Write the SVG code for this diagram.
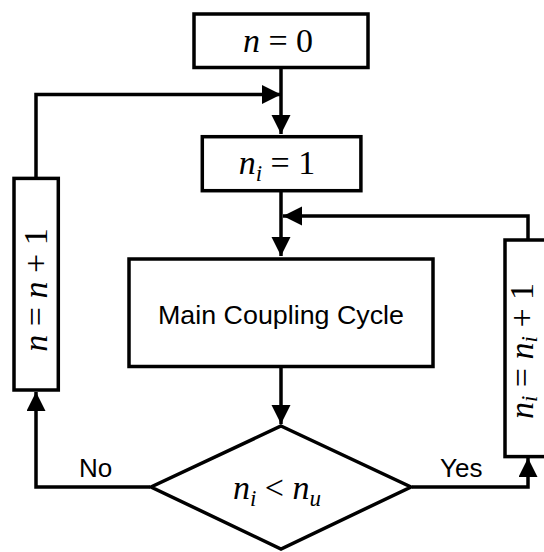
<svg xmlns="http://www.w3.org/2000/svg" width="544" height="552" viewBox="0 0 544 552">
<style>
.box{fill:#fff;stroke:#000;stroke-width:3.5}
.ln{fill:none;stroke:#000;stroke-width:3.5}
.m{font-family:"Liberation Serif","DejaVu Serif",serif;font-size:34px;fill:#000}
.it{font-style:italic}
.sub{font-style:italic;font-size:23px}
.s{font-family:"Liberation Sans",Arial,sans-serif;font-size:26px;fill:#000}
</style>
<defs>
<marker id="ah" markerUnits="userSpaceOnUse" markerWidth="20" markerHeight="20" refX="19" refY="9.5" orient="auto">
<path d="M0,0 L19,9.5 L0,19 Z" fill="#000"/>
</marker>
</defs>
<g id="connectors">
<path class="ln" d="M281,69 V134" marker-end="url(#ah)"/>
<path class="ln" d="M36,178 V94.5 H281" marker-end="url(#ah)"/>
<path class="ln" d="M281,192 V256" marker-end="url(#ah)"/>
<path class="ln" d="M528,240 V216 H283" marker-end="url(#ah)"/>
<path class="ln" d="M281,368 V424" marker-end="url(#ah)"/>
<path class="ln" d="M150,487 H36 V392" marker-end="url(#ah)"/>
<path class="ln" d="M412,487 H528 V458" marker-end="url(#ah)"/>
</g>
<g id="n0">
<rect class="box" x="194" y="14" width="174" height="53.5"/>
<text class="m" x="278" y="52" text-anchor="middle"><tspan class="it">n</tspan> = 0</text>
</g>
<g id="ni1">
<rect class="box" x="202.3" y="136.7" width="158.6" height="54"/>
<text class="m" x="277" y="173.5" text-anchor="middle"><tspan class="it">n</tspan><tspan class="sub" dy="7">i</tspan><tspan dy="-7"> = 1</tspan></text>
</g>
<g id="main">
<rect class="box" x="129" y="259" width="304" height="107.5"/>
<text class="s" x="281" y="324" text-anchor="middle" textLength="246" lengthAdjust="spacingAndGlyphs">Main Coupling Cycle</text>
</g>
<g id="ninc">
<rect class="box" x="14" y="178.4" width="44.3" height="211.6"/>
<text class="m" transform="translate(46.5,290) rotate(-90)" text-anchor="middle"><tspan class="it">n</tspan> = <tspan class="it">n</tspan> + 1</text>
</g>
<g id="niinc">
<rect class="box" x="505" y="240" width="46" height="216.6"/>
<text class="m" transform="translate(533,351) rotate(-90)" text-anchor="middle"><tspan class="it">n</tspan><tspan class="sub" dy="4">i</tspan><tspan dy="-4"> = </tspan><tspan class="it">n</tspan><tspan class="sub" dy="4">i</tspan><tspan dy="-4"> + 1</tspan></text>
</g>
<g id="decision">
<polygon class="box" points="281,426 411,487 281,549 151,487"/>
<text class="m" x="277" y="498.5" text-anchor="middle"><tspan class="it">n</tspan><tspan class="sub" dy="7">i</tspan><tspan dy="-7"> &lt; </tspan><tspan class="it">n</tspan><tspan class="sub" dy="7">u</tspan></text>
</g>
<g id="labels">
<text class="s" x="79" y="476.7">No</text>
<text class="s" x="440" y="476.7" font-size="25">Yes</text>
</g>
</svg>
